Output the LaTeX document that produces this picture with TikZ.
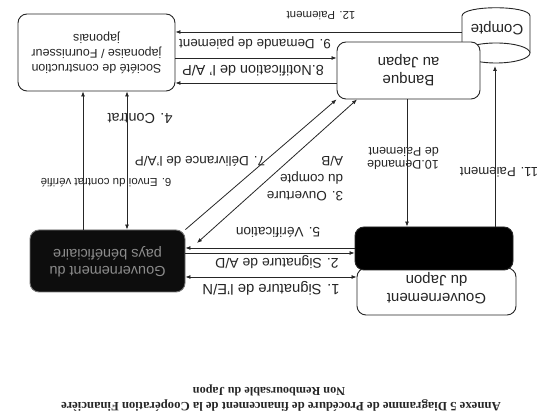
\documentclass[tikz,border=0pt]{standalone}
\usepackage{fontspec}
\setmainfont{Liberation Serif}
\setsansfont{Liberation Sans}
\usepackage{graphicx}
\usetikzlibrary{arrows.meta,calc}
\newcommand{\flipt}[3]{\rotatebox{180}{\sffamily\fontsize{#1}{#2}\selectfont\begin{tabular}{@{}c@{}}#3\end{tabular}}}
\newcommand{\lf}[2]{\sffamily\fontsize{#1}{#2}\selectfont}
\begin{document}
\begin{tikzpicture}[x=1pt,y=-1pt,
  box/.style={draw=black!85, line width=0.9pt, rounded corners=9pt, fill=white, inner sep=0pt, text=black!85},
  arr/.style={draw=black!85, line width=0.8pt, -{Latex[length=5pt,width=4pt]}},
  darr/.style={draw=black!85, line width=0.8pt, {Latex[length=5pt,width=4pt]}-{Latex[length=5pt,width=4pt]}},
  lbl/.style={rotate=180, inner sep=0pt, text=black!85}]
\fill[white] (0,0) rectangle (539,419);
\useasboundingbox (0,0) rectangle (539,419);

% levels and columns
\coordinate (L12) at (0,32);
\coordinate (L9) at (0,58);
\coordinate (L8) at (0,83);
\coordinate (L5) at (0,248);
\coordinate (L2) at (0,253);
\coordinate (L1) at (0,277);
\coordinate (X6) at (83,0);
\coordinate (X4) at (127,0);
\coordinate (X10) at (407,0);
\coordinate (X11) at (495,0);
\coordinate (X3) at (357,0);
\coordinate (cylW) at (462,0);
\coordinate (cylB) at (0,66);
\coordinate (d3s) at (197,243);

% cylinder (Compte)
\filldraw[fill=white, draw=black!85, line width=0.9pt] (462,53) -- (462,16) .. controls (462,5) and (530,5) .. (530,16) -- (530,53);
\filldraw[fill=white, draw=black!85, line width=0.9pt] (496,53) ellipse [x radius=34, y radius=10];
\node[lbl, font=\lf{15pt}{15pt}] (compte) at (497,28) {Compte};

% boxes
\node[box, minimum width=157pt, minimum height=77pt] (soc) at (96.5,52.5)
  {\flipt{12.5pt}{15pt}{Société de construction\\japonaise / Fournisseur\\japonais}};
\node[box, minimum width=143pt, minimum height=57pt] (bank) at (408.5,70.5)
  {\flipt{15pt}{18pt}{Banque\\au Japan}};
\node[box, minimum width=159pt, minimum height=47pt] (gj) at (436.5,291.5)
  {\flipt{15pt}{18pt}{\rule{0pt}{19.6pt}Gouvernement\\du Japon}};
\node[box, fill=black, minimum width=158pt, minimum height=43pt] (jica) at (434,248.5) {};
\node[box, fill=black!95, draw=black!55, minimum width=155pt, minimum height=62pt, text=black!45] (benef) at (107.5,261)
  {\flipt{14.5pt}{17pt}{Gouvernement du\\pays bénéficiaire}};

% connectors
\draw[arr] (cylW |- L12) -- (soc.east |- L12);
\draw[arr] (soc.east |- L9) -- (bank.west |- L9);
\draw[arr] (bank.west |- L8) -- (soc.east |- L8);
\draw[arr] (benef.north -| X6) -- (soc.south -| X6);
\draw[darr] (benef.north -| X4) -- (soc.south -| X4);
\draw[arr] (bank.south -| X10) -- (jica.north -| X10);
\draw[arr] (jica.north -| X11) -- (X11 |- cylB);
\draw[arr] (benef.north east) -- (bank.south west);
\draw[darr] (d3s) -- (bank.south -| X3);
\draw[arr] (jica.west |- L5) -- (benef.east |- L5);
\draw[arr] (benef.east |- L2) -- (jica.west |- L2);
\draw[darr] (benef.east |- L1) -- (gj.west |- L1);

% labels
\node[lbl, font=\lf{11.5pt}{11.5pt}] (t12) at (321,16) {12. Paiement};
\node[lbl, font=\lf{13.4pt}{13.4pt}] (t9) at (255,43) {9. Demande de paiement};
\node[lbl, font=\lf{14.5pt}{14.5pt}] (t8) at (253,71) {8.Notification de l' A/P};
\node[lbl, font=\lf{14.5pt}{14.5pt}] (t4) at (140,118) {4. Contrat};
\node[lbl, font=\lf{11.5pt}{11.5pt}] (t6) at (106,183) {6. Envoi du contrat vérifié};
\node[lbl, font=\lf{13.5pt}{13.5pt}] (t7) at (200,161) {7. Délivrance de l'A/P};
\node[lbl, align=left, font=\lf{13.5pt}{17.5pt}] (t3) at (305,179) {3. Ouverture\\du compte\\A/B};
\node[lbl, align=left, font=\lf{12.5pt}{13.5pt}] (t10) at (403,158.5) {10.Demande\\de Paiement};
\node[lbl, font=\lf{13.2pt}{13.2pt}] (t11) at (499,172) {11. Paiement};
\node[lbl, font=\lf{13.7pt}{13.7pt}] (t5) at (278,232) {5. Vérification};
\node[lbl, font=\lf{14pt}{14pt}] (t2) at (277,262) {2. Signature de A/D};
\node[lbl, font=\lf{14.8pt}{14.8pt}] (t1) at (271,288) {1. Signature de l'E/N};

% title
\node[lbl, font=\rmfamily\bfseries\fontsize{12.7pt}{12.7pt}\selectfont] (title1) at (281,406)
  {Annexe 5 Diagramme de Procédure de financement de la Coopération Financière};
\node[lbl, font=\rmfamily\bfseries\fontsize{12.2pt}{12.2pt}\selectfont] (title2) at (269,390)
  {Non Remboursable du Japon};
\end{tikzpicture}
\end{document}
